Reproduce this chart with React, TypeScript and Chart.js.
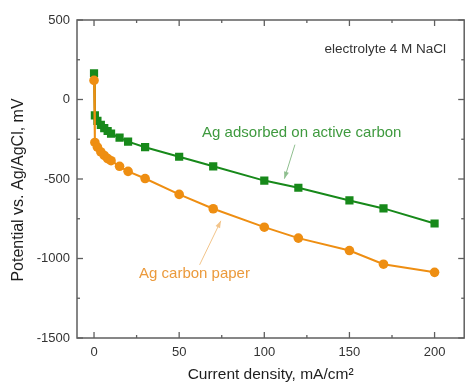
import { useEffect, useRef } from "react";
import { Chart, registerables } from "chart.js";

Chart.register(...registerables);

// ---- data ----
const currentDensity = [0, 0.5, 2, 4, 6, 8, 10, 15, 20, 30, 50, 70, 100, 120, 150, 170, 200];
const agActiveCarbon = [165, -100, -135, -160, -180, -198, -215, -240, -265, -300, -360, -420, -510, -555, -635, -685, -780];
const agCarbonPaper = [120, -270, -300, -330, -352, -372, -385, -420, -452, -497, -597, -687, -803, -872, -950, -1036, -1087];

const xMajorTicks = [0, 50, 100, 150, 200];
const xMinorTicks = [25, 75, 125, 175];
const yMajorTicks = [500, 0, -500, -1000, -1500];
const yMinorTicks = [250, -250, -750, -1250];

const seriesNames = ["Ag adsorbed on active carbon", "Ag carbon paper"];
const noteText = "electrolyte 4 M NaCl";
const xTitle = "Current density, mA/cm\u00B2";
const yTitle = "Potential vs. Ag/AgCl, mV";

// annotation anchors in data units: [x, y]
const greenLabelAt = [122, -207];
const greenArrowFrom = [118, -284];
const greenArrowTo = [111.8, -498];
const orangeLabelAt = [59, -1097];
const orangeArrowFrom = [62, -1040];
const orangeArrowTo = [74.5, -763];
const noteAt = [171, 314];

const GREEN = "#17891a";
const ORANGE = "#ee8e12";
const FONT = "'Liberation Sans', Arial, Helvetica, sans-serif";

function arrow(ctx: CanvasRenderingContext2D, x1: number, y1: number, x2: number, y2: number, color: string) {
  ctx.save();
  ctx.strokeStyle = color;
  ctx.fillStyle = color;
  ctx.lineWidth = 1;
  ctx.beginPath();
  ctx.moveTo(x1, y1);
  ctx.lineTo(x2, y2);
  ctx.stroke();
  const ang = Math.atan2(y2 - y1, x2 - x1);
  const len = 7;
  const w = 2.5;
  ctx.beginPath();
  ctx.moveTo(x2, y2);
  ctx.lineTo(x2 - len * Math.cos(ang) + w * Math.sin(ang), y2 - len * Math.sin(ang) - w * Math.cos(ang));
  ctx.lineTo(x2 - len * Math.cos(ang) - w * Math.sin(ang), y2 - len * Math.sin(ang) + w * Math.cos(ang));
  ctx.closePath();
  ctx.fill();
  ctx.restore();
}

const decorPlugin = {
  id: "decor",
  afterDraw(chart: any) {
    const { ctx, chartArea: a, scales } = chart;
    const xs = scales.x;
    const ys = scales.y;
    const px = (v: number) => xs.getPixelForValue(v);
    const py = (v: number) => ys.getPixelForValue(v);
    ctx.save();
    // frame
    ctx.strokeStyle = "#5f5f5f";
    ctx.lineWidth = 1.5;
    ctx.strokeRect(a.left, a.top, a.right - a.left, a.bottom - a.top);
    // inside ticks
    ctx.lineWidth = 1.3;
    const tick = (x1: number, y1: number, x2: number, y2: number) => {
      ctx.beginPath();
      ctx.moveTo(x1, y1);
      ctx.lineTo(x2, y2);
      ctx.stroke();
    };
    xMajorTicks.forEach((v) => {
      const x = px(v);
      tick(x, a.bottom, x, a.bottom - 6);
      tick(x, a.top, x, a.top + 6);
    });
    xMinorTicks.forEach((v) => {
      const x = px(v);
      tick(x, a.bottom, x, a.bottom - 3);
      tick(x, a.top, x, a.top + 3);
    });
    yMajorTicks.forEach((v) => {
      const y = py(v);
      tick(a.left, y, a.left + 6, y);
      tick(a.right, y, a.right - 6, y);
    });
    yMinorTicks.forEach((v) => {
      const y = py(v);
      tick(a.left, y, a.left + 3, y);
      tick(a.right, y, a.right - 3, y);
    });

    // axis titles
    ctx.fillStyle = "#1e1e1e";
    ctx.font = `15.5px ${FONT}`;
    ctx.textAlign = "center";
    ctx.textBaseline = "alphabetic";
    ctx.fillText(xTitle, (a.left + a.right) / 2, 379);
    ctx.save();
    ctx.translate(19, 190);
    ctx.rotate(-Math.PI / 2);
    ctx.textBaseline = "middle";
    ctx.font = `16px ${FONT}`;
    ctx.fillText(yTitle, 0, 0);
    ctx.restore();

    // annotations
    ctx.textBaseline = "middle";
    ctx.font = `13.5px ${FONT}`;
    ctx.fillStyle = "#333333";
    ctx.fillText(noteText, px(noteAt[0]), py(noteAt[1]));
    ctx.font = `15px ${FONT}`;
    ctx.fillStyle = "#3f9a3f";
    ctx.fillText(seriesNames[0], px(greenLabelAt[0]), py(greenLabelAt[1]));
    ctx.fillStyle = "#eb9a3c";
    ctx.fillText(seriesNames[1], px(orangeLabelAt[0]), py(orangeLabelAt[1]));
    arrow(ctx, px(greenArrowFrom[0]), py(greenArrowFrom[1]), px(greenArrowTo[0]), py(greenArrowTo[1]), "#8fbf8f");
    arrow(ctx, px(orangeArrowFrom[0]), py(orangeArrowFrom[1]), px(orangeArrowTo[0]), py(orangeArrowTo[1]), "#f2c48a");
    ctx.restore();
  },
};

export default function App() {
  const ref = useRef<HTMLCanvasElement | null>(null);
  useEffect(() => {
    if (!ref.current) return;
    const chart = new Chart(ref.current, {
      type: "scatter",
      data: {
        datasets: [
          {
            label: seriesNames[0],
            data: currentDensity.map((x, i) => ({ x, y: agActiveCarbon[i] })),
            showLine: true,
            borderColor: GREEN,
            backgroundColor: GREEN,
            borderWidth: 2,
            pointStyle: "rect",
            pointRadius: 5.8,
            pointBorderWidth: 0,
            order: 2,
          },
          {
            label: seriesNames[1],
            data: currentDensity.map((x, i) => ({ x, y: agCarbonPaper[i] })),
            showLine: true,
            borderColor: ORANGE,
            backgroundColor: ORANGE,
            borderWidth: 2,
            pointStyle: "circle",
            pointRadius: 4.8,
            pointBorderWidth: 0,
            order: 1,
          },
        ],
      },
      options: {
        animation: false,
        responsive: false,
        devicePixelRatio: 1,
        layout: { padding: { top: 20, right: 3, left: 0, bottom: 0 } },
        plugins: { legend: { display: false }, tooltip: { enabled: false } },
        scales: {
          x: {
            type: "linear",
            min: -10,
            max: 217.4,
            grid: { display: false, drawTicks: false },
            border: { display: false },
            afterBuildTicks: (s: any) => {
              s.ticks = xMajorTicks.map((v) => ({ value: v }));
            },
            afterFit: (s: any) => {
              s.height = 44;
            },
            ticks: {
              color: "#333333",
              font: { family: FONT, size: 13 },
              padding: 7,
              maxRotation: 0,
              callback: (v: any) => String(v),
            },
          },
          y: {
            type: "linear",
            min: -1500,
            max: 500,
            grid: { display: false, drawTicks: false },
            border: { display: false },
            afterBuildTicks: (s: any) => {
              s.ticks = yMajorTicks.map((v) => ({ value: v }));
            },
            afterFit: (s: any) => {
              s.width = 77;
            },
            ticks: {
              color: "#333333",
              font: { family: FONT, size: 13 },
              padding: 7,
              callback: (v: any) => String(v),
            },
          },
        },
      },
      plugins: [decorPlugin],
    });
    return () => chart.destroy();
  }, []);
  return (
    <div style={{ position: "fixed", left: 0, top: 0, width: 470, height: 382, background: "#fff" }}>
      <canvas ref={ref} width={470} height={382} style={{ display: "block" }} />
    </div>
  );
}
